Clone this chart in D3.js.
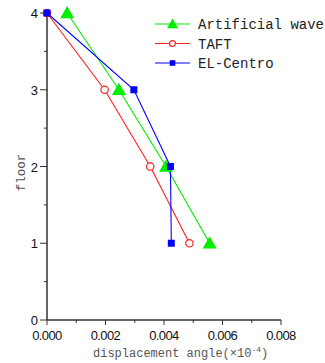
<!DOCTYPE html>
<html>
<head>
<meta charset="utf-8">
<script src="https://cdn.jsdelivr.net/npm/d3@7/dist/d3.min.js"></script>
<style>
  html, body { margin: 0; padding: 0; background: #fff; }
  svg { display: block; }
  .mono { font-family: "Liberation Mono", "Courier New", monospace; }
  .sans { font-family: "Liberation Sans", Arial, sans-serif; }
</style>
</head>
<body>
<div id="chart"></div>
<script>
const floors = [4, 3, 2, 1];
const artificialWave = [0.00069, 0.00246, 0.00407, 0.00556];
const taft = [0.0, 0.00197, 0.00353, 0.00487];
const elCentro = [0.0, 0.00297, 0.00422, 0.00425];
const seriesNames = ['Artificial wave', 'TAFT', 'EL-Centro'];
const xTicks = [0, 0.002, 0.004, 0.006, 0.008];
const yTicks = [0, 1, 2, 3, 4];

const width = 325, height = 363;
const margin = { top: 13, right: 44, bottom: 43, left: 47 };

const svg = d3.select('#chart').append('svg')
  .attr('width', width)
  .attr('height', height);

const x = d3.scaleLinear().domain([0, 0.008]).range([margin.left, width - margin.right]);
const y = d3.scaleLinear().domain([0, 4]).range([height - margin.bottom, margin.top]);

const axisColor = '#333';

// x axis
const xAxis = svg.append('g').attr('transform', `translate(0,${y(0)})`);
xAxis.append('line')
  .attr('x1', x(0)).attr('x2', x(0.008))
  .attr('stroke', axisColor).attr('stroke-width', 1.5);
d3.range(0, 0.0081, 0.001).forEach((v, i) => {
  xAxis.append('line')
    .attr('x1', x(v)).attr('x2', x(v))
    .attr('y1', 0).attr('y2', i % 2 === 0 ? 5 : 3)
    .attr('stroke', axisColor).attr('stroke-width', 1);
});
xAxis.selectAll('text.tick').data(xTicks).enter().append('text')
  .attr('class', 'sans')
  .attr('x', d => x(d))
  .attr('y', 20)
  .attr('text-anchor', 'middle')
  .style('font-size', '13px')
  .style('letter-spacing', '-0.6px')
  .style('fill', '#111')
  .text(d => d3.format('.3f')(d));

// y axis
const yAxis = svg.append('g').attr('transform', `translate(${x(0)},0)`);
yAxis.append('line')
  .attr('y1', y(0)).attr('y2', y(4))
  .attr('stroke', axisColor).attr('stroke-width', 1.5);
d3.range(0, 4.01, 0.5).forEach((v, i) => {
  yAxis.append('line')
    .attr('y1', y(v)).attr('y2', y(v))
    .attr('x1', 0).attr('x2', i % 2 === 0 ? -7 : -3)
    .attr('stroke', axisColor).attr('stroke-width', 1);
});
yAxis.selectAll('text.tick').data(yTicks).enter().append('text')
  .attr('class', 'sans')
  .attr('x', -9)
  .attr('y', d => y(d) + 5)
  .attr('text-anchor', 'end')
  .style('font-size', '13px')
  .style('fill', '#111')
  .text(d => d);

// axis titles
const xTitle = svg.append('text')
  .attr('class', 'mono')
  .attr('x', 93)
  .attr('y', 357)
  .style('font-size', '12px')
  .style('fill', '#555');
xTitle.append('tspan').text('displacement angle(×10');
xTitle.append('tspan').attr('dy', -5).style('font-size', '8px').text('-4');
xTitle.append('tspan').attr('dy', 5).text(')');

svg.append('text')
  .attr('class', 'mono')
  .attr('transform', `translate(25,${(y(0) + y(4)) / 2 + 6}) rotate(-90)`)
  .attr('text-anchor', 'middle')
  .style('font-size', '12.5px')
  .style('fill', '#555')
  .text('floor');

// series
const series = [
  { name: seriesNames[0], values: artificialWave, color: '#00ee00', marker: 'triangle' },
  { name: seriesNames[1], values: taft, color: '#ff2020', marker: 'circle' },
  { name: seriesNames[2], values: elCentro, color: '#0000ff', marker: 'square' }
];

function drawMarker(g, type, cx, cy, color, scale) {
  if (type === 'triangle') {
    const s = 7 * scale;
    g.append('path')
      .attr('d', `M${cx},${cy - s} L${cx + s},${cy + s * 0.75} L${cx - s},${cy + s * 0.75} Z`)
      .attr('fill', color);
  } else if (type === 'circle') {
    g.append('circle')
      .attr('cx', cx).attr('cy', cy).attr('r', 3.7 * scale)
      .attr('fill', '#fff').attr('stroke', color).attr('stroke-width', 1.2);
  } else {
    const s = 3.5 * scale;
    g.append('rect')
      .attr('x', cx - s).attr('y', cy - s)
      .attr('width', 2 * s).attr('height', 2 * s)
      .attr('fill', color);
  }
}

const line = d3.line().x(d => x(d[0])).y(d => y(d[1]));

series.forEach(s => {
  const pts = s.values.map((v, i) => [v, floors[i]]);
  svg.append('path')
    .datum(pts)
    .attr('fill', 'none')
    .attr('stroke', s.color)
    .attr('stroke-width', 1.1)
    .attr('d', line);
});
series.forEach(s => {
  const g = svg.append('g');
  s.values.forEach((v, i) => drawMarker(g, s.marker, x(v), y(floors[i]), s.color, 1));
});

// legend
const legend = svg.append('g').attr('transform', 'translate(155,24)');
series.forEach((s, i) => {
  const row = legend.append('g').attr('transform', `translate(0,${i * 19.5})`);
  row.append('line')
    .attr('x1', 0).attr('x2', 35)
    .attr('stroke', s.color).attr('stroke-width', 1.1);
  drawMarker(row, s.marker, 17.5, 0, s.color, 0.8);
  row.append('text')
    .attr('class', 'mono')
    .attr('x', 43)
    .attr('y', 5)
    .style('font-size', '14px')
    .style('fill', '#222')
    .text(s.name);
});
</script>
</body>
</html>
